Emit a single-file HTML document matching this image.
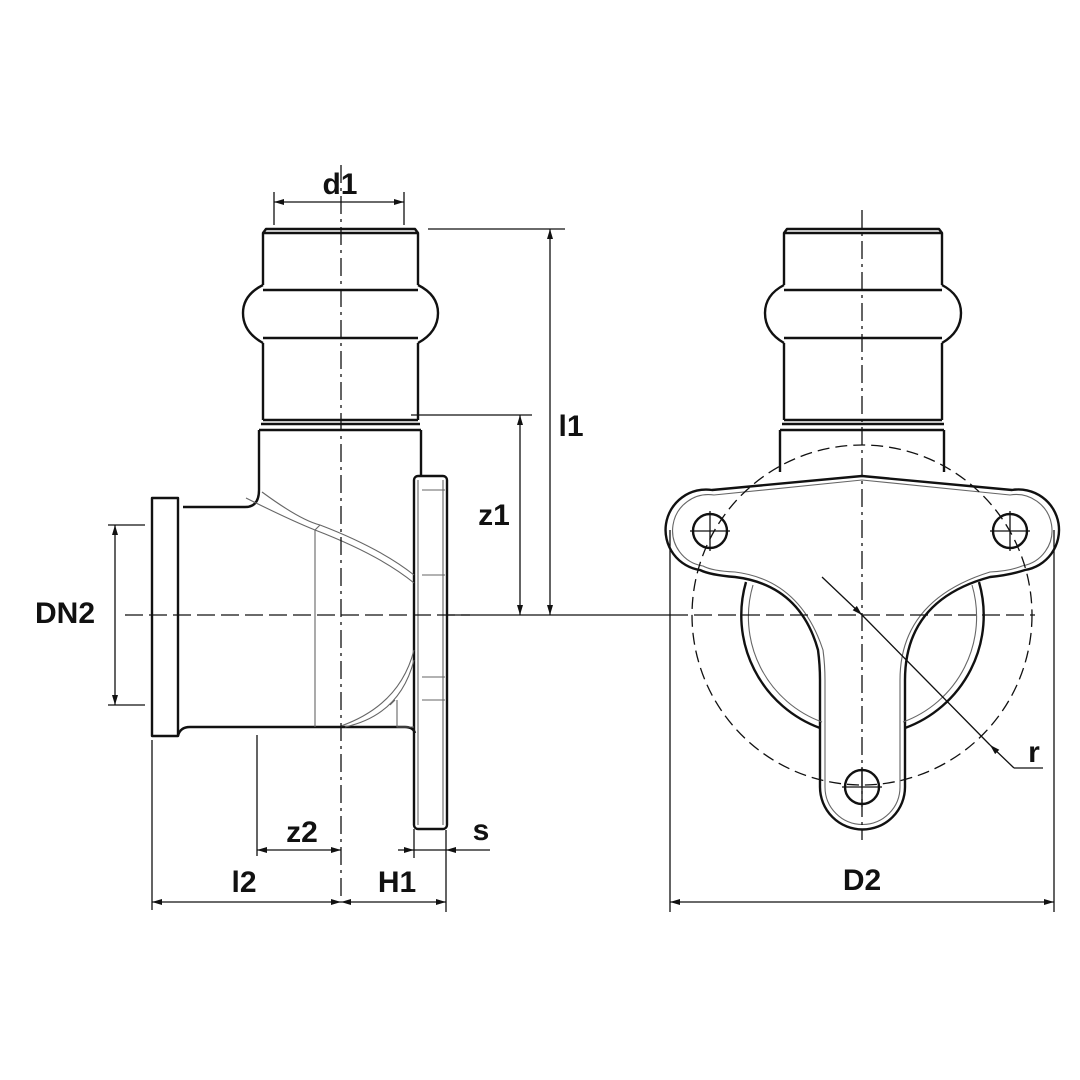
<!DOCTYPE html>
<html><head><style>body{margin:0;background:#fff}svg{display:block}text{font-family:"Liberation Sans",sans-serif;font-weight:bold;font-size:30px;fill:#111}</style></head><body>
<svg width="1080" height="1080" viewBox="0 0 1080 1080" xmlns="http://www.w3.org/2000/svg">
<defs>
<marker id="a" viewBox="0 0 10 10" refX="10" refY="5" markerWidth="10" markerHeight="10" orient="auto-start-reverse" markerUnits="userSpaceOnUse"><path d="M0,2 L10,5 L0,8z" fill="#111"/></marker>
</defs>
<g fill="none" stroke="#111" stroke-width="2.4" stroke-linejoin="round">
<!-- left pipe -->
<path d="M263,285 V233 L266,229 H415 L418,233 V285 M263,233 H418"/>
<path d="M263,285 Q243,295 243,313 Q243,332 263,343 M418,285 Q438,295 438,313 Q438,332 418,343"/>
<path d="M263,343 V420 M418,343 V420 M263,290 H418 M263,338 H418 M263,420 H418 M261,424 H420 M259,430 H421"/>
<path d="M259,430 V490 Q259,507 245,507 H183"/>
<path d="M421,430 V476"/>
<rect x="152" y="498" width="26" height="238"/>
<path d="M178,736 Q180,727 190,727 H405 Q413,727 415,733"/>
<rect x="414" y="476" width="33" height="353" rx="4"/>
<!-- right pipe -->
<path d="M784,285 V233 L787,229 H939 L942,233 V285 M784,233 H942"/>
<path d="M784,285 Q765,295 765,313 Q765,332 784,343 M942,285 Q961,295 961,313 Q961,332 942,343"/>
<path d="M784,343 V420 M942,343 V420 M784,290 H942 M784,338 H942 M784,420 H942 M782,424 H944 M780,430 H944 M780,430 V472 M944,430 V472"/>
<!-- opening circle -->
<path d="M746,582 A120,120 0 0 0 820,728 M905,728 A120,120 0 0 0 979,582"/>
<!-- flange -->
<path d="M862,476 L712,490 A40,40 0 0 0 700,570 Q710,575 735,577 Q800,585 818,650 Q820,665 820,680 V787 A42,42 0 0 0 905,787 V680 Q905,600 990,577 Q1010,575 1025,570 A40,40 0 0 0 1012,490 Z"/>
<circle cx="710" cy="531" r="17"/><circle cx="1010" cy="531" r="17"/><circle cx="862" cy="787" r="17"/>
</g>
<g fill="none" stroke="#666" stroke-width="1.1">
<path d="M246,498 Q290,520 315,530 Q380,555 414,583"/>
<path d="M262,492 Q300,520 320,525 Q380,548 414,575"/>
<path d="M315,530 V727 M320,525 L315,530"/>
<path d="M341,726 Q400,705 414,650 M345,727 Q400,715 414,660 M390,705 L395,700"/>
<path d="M397,700 V727 H414 M422,490 H445 M422,575 H445 M422,677 H445 M422,700 H445 M418,480 V825 M443,480 V825"/>
<path d="M862,480 L714,495 A35,35 0 0 0 703,566 Q712,571 735,572 Q800,580 823,650 Q825,665 825,680 V787 A37,37 0 0 0 900,787 V680 Q900,600 990,572 Q1010,571 1022,566 A35,35 0 0 0 1010,495 Z"/>
<path d="M753,585 A112,112 0 0 0 822,722 M903,722 A112,112 0 0 0 972,585"/>
</g>
<g fill="none" stroke="#111" stroke-width="1.3">
<path d="M341,165 V900" stroke-dasharray="18,5,3,5"/>
<path d="M862,210 V840" stroke-dasharray="18,5,3,5"/>
<path d="M125,615 H470" stroke-dasharray="18,6"/>
<path d="M670,615 H1035" stroke-dasharray="18,6"/>
<path d="M446,615 H670"/>
<circle cx="862" cy="615" r="170" stroke-dasharray="12,6"/>
<path d="M690,531 H730 M710,511 V551 M990,531 H1030 M1010,511 V551 M842,787 H882 M862,767 V807"/>
<path d="M274,192 V225 M404,192 V225"/>
<path d="M274,202 H404" marker-start="url(#a)" marker-end="url(#a)"/>
<path d="M428,229 H565 M411,415 H532"/>
<path d="M550,229 V615" marker-start="url(#a)" marker-end="url(#a)"/>
<path d="M520,415 V615" marker-start="url(#a)" marker-end="url(#a)"/>
<path d="M108,525 H145 M108,705 H145"/>
<path d="M115,525 V705" marker-start="url(#a)" marker-end="url(#a)"/>
<path d="M257,735 V856 M152,740 V910 M446,830 V912 M414,829 V858 M670,530 V912 M1054,530 V912"/>
<path d="M257,850 H341" marker-start="url(#a)" marker-end="url(#a)"/>
<path d="M152,902 H341" marker-start="url(#a)" marker-end="url(#a)"/>
<path d="M341,902 H446" marker-start="url(#a)" marker-end="url(#a)"/>
<path d="M398,850 H414" marker-end="url(#a)"/>
<path d="M490,850 H446" marker-end="url(#a)"/>
<path d="M414,850 H446"/>
<path d="M670,902 H1054" marker-start="url(#a)" marker-end="url(#a)"/>
<path d="M822,577 L862,615" marker-end="url(#a)"/>
<path d="M862,615 L990,745" />
<path d="M1014,768 L990,745" marker-end="url(#a)"/>
<path d="M1014,768 H1043"/>
</g>
<text x="340" y="194" text-anchor="middle">d1</text>
<text x="571" y="436" text-anchor="middle">l1</text>
<text x="494" y="525" text-anchor="middle">z1</text>
<text x="65" y="623" text-anchor="middle">DN2</text>
<text x="302" y="842" text-anchor="middle">z2</text>
<text x="244" y="892" text-anchor="middle">l2</text>
<text x="397" y="892" text-anchor="middle">H1</text>
<text x="481" y="840" text-anchor="middle">s</text>
<text x="862" y="890" text-anchor="middle">D2</text>
<text x="1034" y="762" text-anchor="middle">r</text>
</svg>
</body></html>
